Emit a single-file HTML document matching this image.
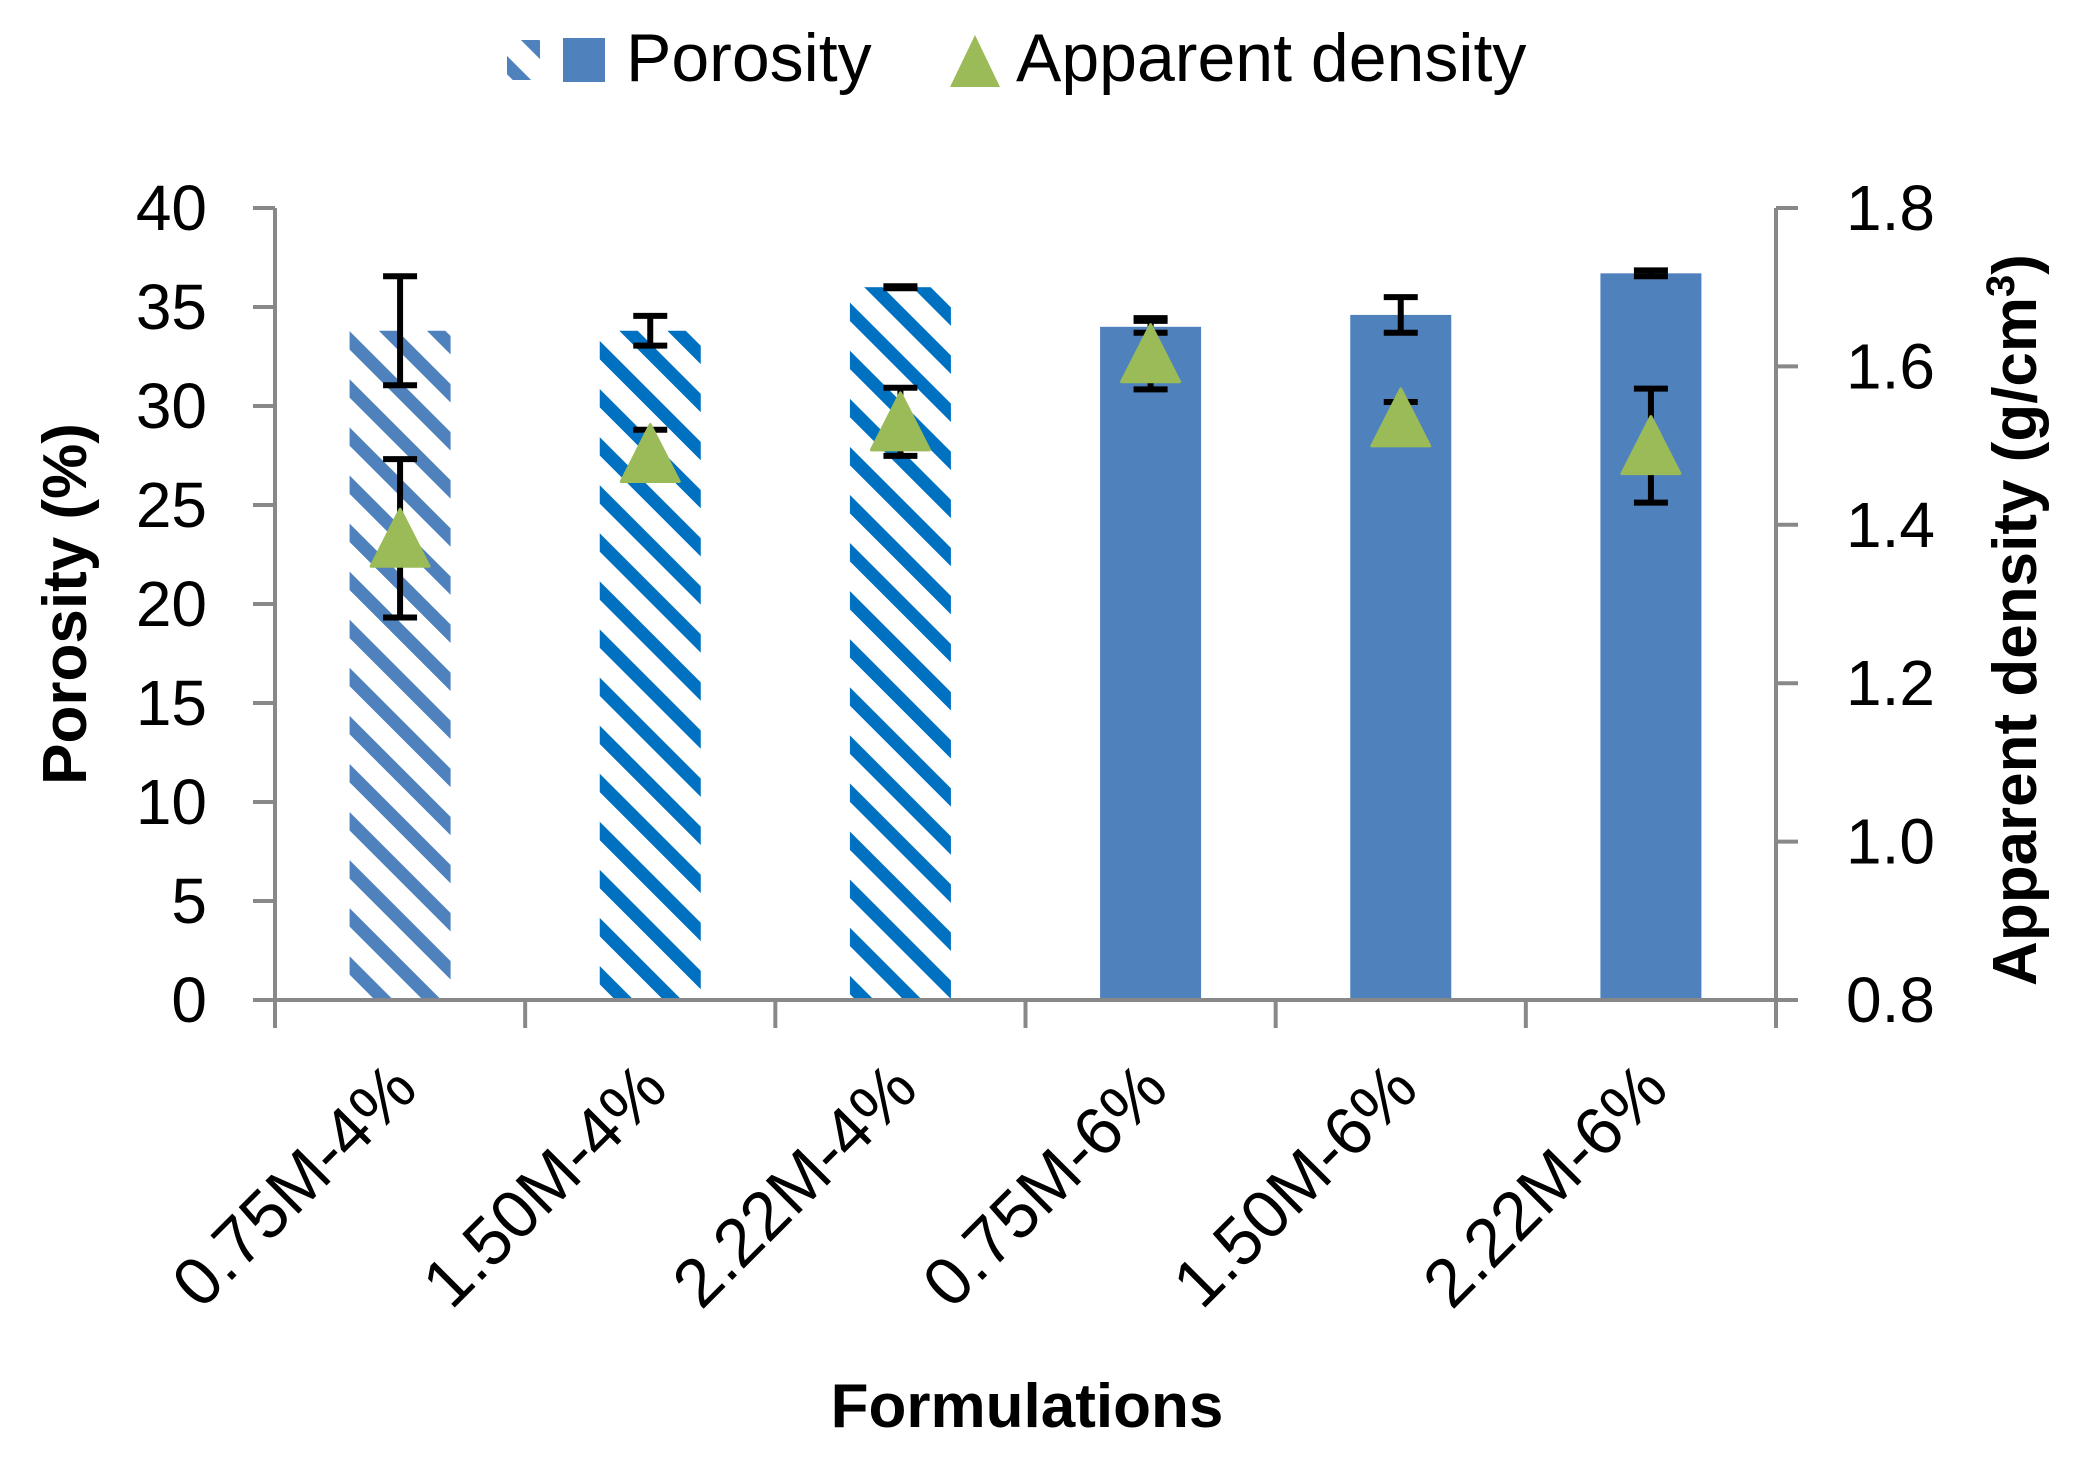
<!DOCTYPE html>
<html><head><meta charset="utf-8"><style>
html,body{margin:0;padding:0;background:#fff;}
svg{display:block;font-family:"Liberation Sans",sans-serif;}
</style></head><body>
<svg id="chart" width="2081" height="1466" viewBox="0 0 2081 1466" xmlns="http://www.w3.org/2000/svg">
<defs>
<pattern id="hatchA" patternUnits="userSpaceOnUse" width="34" height="34" patternTransform="rotate(-45)">
<rect x="0" y="0" width="13" height="34" fill="#4f81bd"/></pattern>
<pattern id="hatchB" patternUnits="userSpaceOnUse" width="34" height="34" patternTransform="rotate(-45)">
<rect x="0" y="0" width="13" height="34" fill="#0070c0"/></pattern>
</defs>
<g id="legend">
<rect x="507" y="40" width="33" height="40" fill="url(#hatchA)"/>
<rect x="563" y="38" width="42" height="44" fill="#4f81bd"/>
<text x="626" y="81" font-size="68" fill="#000">Porosity</text>
<polygon points="975,35 1000,87 950,87" fill="#9bbb59"/>
<text x="1016" y="81" font-size="68" fill="#000">Apparent density</text>
</g>
<g id="bars"></g>
<g id="axes"></g>
<g id="points"></g>
<text transform="translate(86,604) rotate(-90)" text-anchor="middle" font-size="62" font-weight="bold">Porosity (%)</text>
<text transform="translate(2036,620) rotate(-90)" text-anchor="middle" font-size="62" font-weight="bold">Apparent density (g/cm<tspan font-size="40" dy="-22">3</tspan><tspan dy="22">)</tspan></text>
<text x="1027" y="1427" text-anchor="middle" font-size="62" font-weight="bold">Formulations</text>
</svg>
<script>
const categories = ["0.75M-4%","1.50M-4%","2.22M-4%","0.75M-6%","1.50M-6%","2.22M-6%"];
const porosity = [33.8, 33.8, 36.0, 34.0, 34.6, 36.7];
const porosityErr = [2.75, 0.75, 0.05, 0.3, 0.9, 0.15];
const density = [1.383, 1.49, 1.53, 1.616, 1.535, 1.50];
const densityErr = [0.1, 0.03, 0.043, 0.045, 0.02, 0.072];
const barFills = ["url(#hatchA)","url(#hatchB)","url(#hatchB)","#4f81bd","#4f81bd","#4f81bd"];
const yTicks = [0,5,10,15,20,25,30,35,40];
const y2Ticks = [0.8,1.0,1.2,1.4,1.6,1.8];

const NS = "http://www.w3.org/2000/svg";
const X0 = 275, X1 = 1776, Y0 = 1000, Ytop = 208;
const band = (X1 - X0) / categories.length;
const xc = i => X0 + band * (i + 0.5);
const yL = v => Y0 - (v / 40) * (Y0 - Ytop);
const yR = v => Y0 - ((v - 0.8) / 1.0) * (Y0 - Ytop);
function mk(tag, attrs, parent){const e=document.createElementNS(NS,tag);for(const k in attrs)e.setAttribute(k,attrs[k]);parent.appendChild(e);return e;}
const gB = document.getElementById('bars'), gA = document.getElementById('axes'), gP = document.getElementById('points');
const bw = 101;
function errBar(x, lo, hi, name){
  const g = mk('g', {stroke:'#000','stroke-width':6}, gP);
  
  
  mk('line',{x1:x,x2:x,y1:lo,y2:hi},g);
  mk('line',{x1:x-17,x2:x+17,y1:lo,y2:lo},g);
  mk('line',{x1:x-17,x2:x+17,y1:hi,y2:hi},g);
}
categories.forEach((c,i)=>{
  const r = mk('rect',{x:xc(i)-bw/2,y:yL(porosity[i]),width:bw,height:Y0-yL(porosity[i]),fill:barFills[i]},gB);
  
  
});
const ax = mk('g',{stroke:'#888','stroke-width':4},gA);


mk('line',{x1:X0,x2:X0,y1:Ytop,y2:Y0},ax);
mk('line',{x1:X1,x2:X1,y1:Ytop,y2:Y0},ax);
mk('line',{x1:X0-22,x2:X1+22,y1:Y0,y2:Y0},ax);
yTicks.forEach(t=>{
  mk('line',{x1:X0-22,x2:X0,y1:yL(t),y2:yL(t)},ax);
  const tx = mk('text',{x:207,y:yL(t)+22,'text-anchor':'end','font-size':64,fill:'#000',stroke:'none'},gA);
  tx.textContent = t;
  
  
});
y2Ticks.forEach(t=>{
  mk('line',{x1:X1,x2:X1+22,y1:yR(t),y2:yR(t)},ax);
  const tx = mk('text',{x:1846,y:yR(t)+22,'font-size':64,fill:'#000',stroke:'none'},gA);
  tx.textContent = t.toFixed(1);
  
  
});
for(let i=0;i<=categories.length;i++){
  const x = X0 + band*i;
  mk('line',{x1:x,x2:x,y1:Y0,y2:Y0+28},ax);
}
categories.forEach((c,i)=>{
  const x = xc(i)+20, y = 1092;
  const tx = mk('text',{x:x,y:y,'text-anchor':'end','font-size':68,fill:'#000',transform:`rotate(-45 ${x} ${y})`},gA);
  tx.textContent = c;
  
  
});
categories.forEach((c,i)=>{
  const x = xc(i);
  errBar(x, yL(porosity[i]-porosityErr[i]), yL(porosity[i]+porosityErr[i]), 'porosity-error-bar-'+i);
  errBar(x, yR(density[i]-densityErr[i]), yR(density[i]+densityErr[i]), 'density-error-bar-'+i);
  const cy = yR(density[i]);
  const p = mk('polygon',{points:`${x},${cy-29} ${x+29},${cy+28} ${x-29},${cy+28}`,fill:'#9bbb59','stroke':'#9bbb59','stroke-width':3,'stroke-linejoin':'round'},gP);
  
  
});
</script>
</body></html>
